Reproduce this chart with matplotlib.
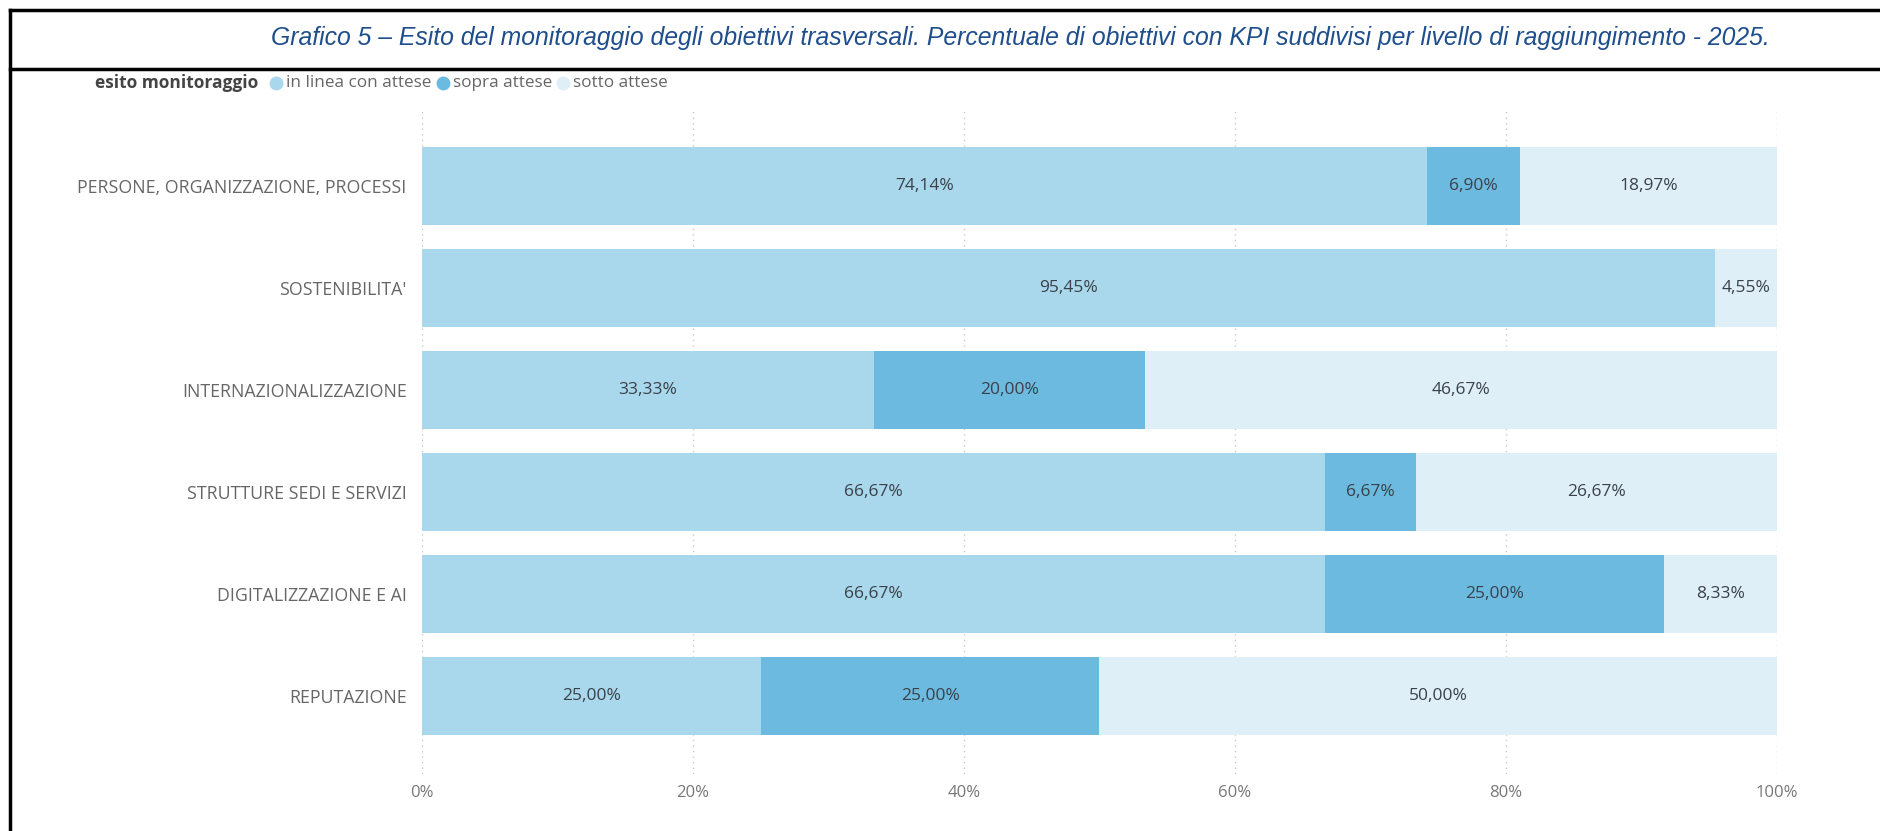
import numpy as np
import matplotlib.pyplot as plt
from matplotlib.lines import Line2D

# dati
categorie = ["PERSONE, ORGANIZZAZIONE, PROCESSI", "SOSTENIBILITA'", "INTERNAZIONALIZZAZIONE",
             "STRUTTURE SEDI E SERVIZI", "DIGITALIZZAZIONE E AI", "REPUTAZIONE"]
in_linea = [74.14, 95.45, 33.33, 66.67, 66.67, 25.00]
sopra = [6.90, 0.0, 20.00, 6.67, 25.00, 25.00]
sotto = [18.97, 4.55, 46.67, 26.67, 8.33, 50.00]
serie_nomi = ["in linea con attese", "sopra attese", "sotto attese"]
xtick_val = [0, 20, 40, 60, 80, 100]
xtick_lab = ["0%", "20%", "40%", "60%", "80%", "100%"]

colori = ["#a9d7ec", "#6cbadf", "#dfeff8"]
testo_col = "#3a4149"

W, H = 1881, 831
fig = plt.figure(figsize=(W / 100, H / 100), dpi=100)
fig.patch.set_facecolor("white")

ax = fig.add_axes([422 / W, 1 - 774 / H, (1777 - 422) / W, (774 - 108) / H])

y = np.arange(len(categorie))
h = 0.765
left = np.zeros(len(categorie))
for vals, col in zip([in_linea, sopra, sotto], colori):
    vals = np.array(vals)
    ax.barh(y, vals, left=left, height=h, color=col, edgecolor="none", zorder=2)
    for yi, l, v in zip(y, left, vals):
        if v > 0:
            ax.text(l + v / 2, yi, f"{v:.2f}%".replace(".", ","), ha="center", va="center",
                    fontsize=12.5, color=testo_col, family="Open Sans", zorder=3)
    left = left + vals

ax.set_xlim(0, 100)
ax.set_ylim(len(categorie) - 1 + 0.765, -0.765)
ax.set_yticks(y)
ax.set_yticklabels(categorie, fontsize=12.8, color="#666666", family="Open Sans")
ax.set_xticks(xtick_val)
ax.set_xticklabels(xtick_lab, fontsize=12, color="#777777", family="Open Sans")
ax.tick_params(axis="both", length=0)
ax.tick_params(axis="y", pad=11)
ax.tick_params(axis="x", pad=8)
ax.grid(axis="x", linestyle=(0, (1, 3)), color="#c8c8c8", linewidth=1, zorder=1)
for s in ax.spines.values():
    s.set_visible(False)

# titolo
fig.text(1020 / W, 1 - 38 / H,
         "Grafico 5 – Esito del monitoraggio degli obiettivi trasversali. Percentuale di obiettivi con KPI suddivisi per livello di raggiungimento - 2025.",
         ha="center", va="center", fontsize=17.8, style="italic", color="#1f4e8c",
         family="Liberation Sans")

# cornici
fig.add_artist(Line2D([10 / W, 1], [1 - 10 / H, 1 - 10 / H], color="black", lw=2.5))
fig.add_artist(Line2D([10 / W, 1], [1 - 69 / H, 1 - 69 / H], color="black", lw=2.5))
fig.add_artist(Line2D([10 / W, 10 / W], [0, 1 - 10 / H], color="black", lw=2.5))

# legenda
ly = 1 - 83 / H
t = fig.text(95 / W, ly, "esito monitoraggio", ha="left", va="center", fontsize=12.5,
             weight="bold", color="#444444", family="Open Sans")
fig.canvas.draw()
r = fig.canvas.get_renderer()
x0 = t.get_window_extent(r).x1 + 12
for nome, col in zip(serie_nomi, colori):
    fig.add_artist(Line2D([(x0 + 6) / W], [ly], marker="o", markersize=9, color=col, lw=0))
    tt = fig.text((x0 + 16) / W, ly, nome, ha="left", va="center", fontsize=12.3,
                  color="#666666", family="Open Sans")
    fig.canvas.draw()
    x0 = tt.get_window_extent(r).x1 + 5

fig.savefig("out.png", dpi=100)
